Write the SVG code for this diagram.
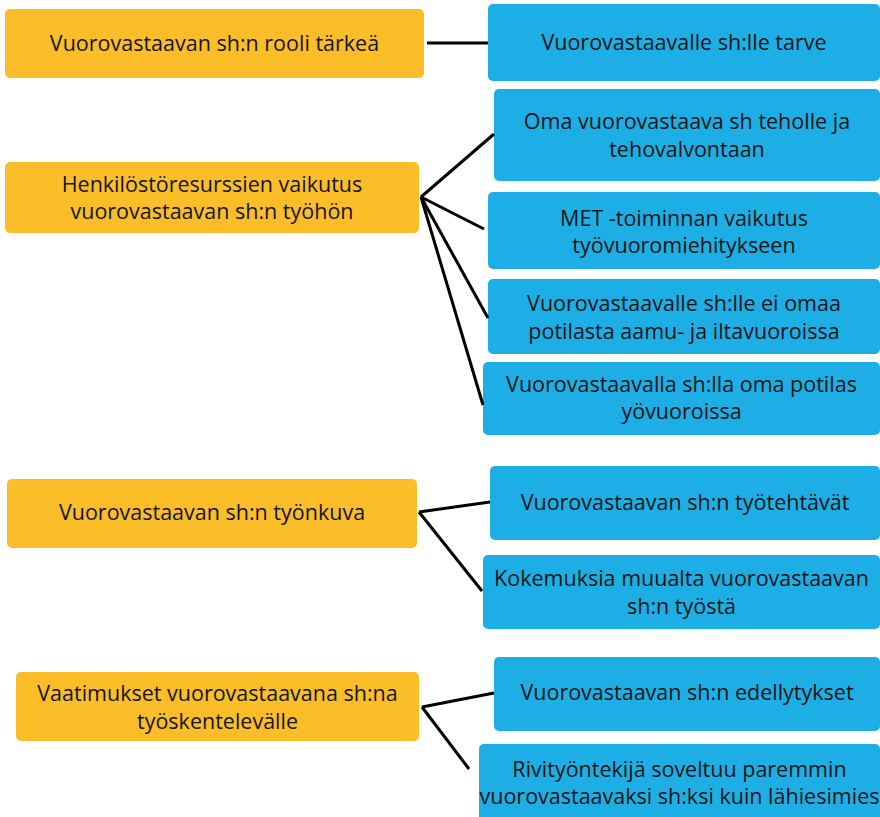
<svg xmlns="http://www.w3.org/2000/svg" width="880" height="817" viewBox="0 0 880 817">
<style>
.o{fill:#FBBD28}
.b{fill:#1CAEE4}
text{font-family:"Open Sans","Noto Sans","DejaVu Sans",sans-serif;font-size:21.5px;fill:#151515;text-anchor:middle}
.c line{stroke:#000;stroke-width:3;stroke-linecap:butt}
</style>
<rect width="880" height="817" fill="#fff"/>
<g id="o1"><rect class="o" x="5" y="9" width="419" height="69" rx="5"/><text x="214.5" y="51">Vuorovastaavan sh:n rooli tärkeä</text></g>
<g id="o2"><rect class="o" x="5" y="162" width="414" height="71" rx="5"/><text x="212" y="192">Henkilöstöresurssien vaikutus</text><text x="212" y="219">vuorovastaavan sh:n työhön</text></g>
<g id="o3"><rect class="o" x="7" y="479" width="410" height="69" rx="5"/><text x="212" y="520">Vuorovastaavan sh:n työnkuva</text></g>
<g id="o4"><rect class="o" x="16" y="672" width="403" height="69" rx="5"/><text x="217.5" y="701">Vaatimukset vuorovastaavana sh:na</text><text x="217.5" y="729">työskentelevälle</text></g>
<g id="b1"><rect class="b" x="488" y="4" width="392" height="77" rx="5"/><text x="684" y="50">Vuorovastaavalle sh:lle tarve</text></g>
<g id="b2"><rect class="b" x="494" y="89" width="386" height="92" rx="5"/><text x="687" y="129">Oma vuorovastaava sh teholle ja</text><text x="687" y="157">tehovalvontaan</text></g>
<g id="b3"><rect class="b" x="488" y="192" width="392" height="77" rx="5"/><text x="684" y="226">MET -toiminnan vaikutus</text><text x="684" y="253">työvuoromiehitykseen</text></g>
<g id="b4"><rect class="b" x="488" y="279" width="392" height="75" rx="5"/><text x="684" y="311">Vuorovastaavalle sh:lle ei omaa</text><text x="684" y="339">potilasta aamu- ja iltavuoroissa</text></g>
<g id="b5"><rect class="b" x="483" y="362" width="397" height="73" rx="5"/><text x="681.5" y="392">Vuorovastaavalla sh:lla oma potilas</text><text x="681.5" y="419">yövuoroissa</text></g>
<g id="b6"><rect class="b" x="490" y="466" width="390" height="74" rx="5"/><text x="685" y="510">Vuorovastaavan sh:n työtehtävät</text></g>
<g id="b7"><rect class="b" x="483" y="555" width="397" height="74" rx="5"/><text x="681.5" y="586">Kokemuksia muualta vuorovastaavan</text><text x="681.5" y="614">sh:n työstä</text></g>
<g id="b8"><rect class="b" x="494" y="657" width="386" height="74" rx="5"/><text x="687" y="700">Vuorovastaavan sh:n edellytykset</text></g>
<g id="b9"><rect class="b" x="479" y="744" width="401" height="90" rx="5"/><text x="679.5" y="777">Rivityöntekijä soveltuu paremmin</text><text x="679.5" y="804">vuorovastaavaksi sh:ksi kuin lähiesimies</text></g>
<g class="c" id="connectors">
<line x1="427" y1="43" x2="488" y2="43"/>
<line x1="421" y1="197" x2="494" y2="134"/>
<line x1="421" y1="197" x2="484" y2="229"/>
<line x1="421" y1="197" x2="488" y2="318"/>
<line x1="421" y1="197" x2="483" y2="405"/>
<line x1="419" y1="512" x2="490" y2="502"/>
<line x1="419" y1="512" x2="482" y2="591"/>
<line x1="422" y1="707" x2="494" y2="693"/>
<line x1="422" y1="707" x2="469" y2="769"/>
</g>
</svg>
